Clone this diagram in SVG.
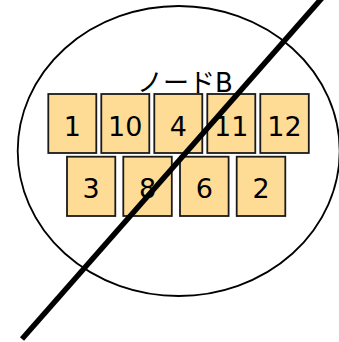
<svg xmlns="http://www.w3.org/2000/svg" width="339" height="342" viewBox="0 0 339 342">
<style>
.box rect{fill:#FFDC96;stroke:#1a1a1a;stroke-width:1.8}
.box text{font-family:"DejaVu Sans","Noto Sans CJK JP",sans-serif;font-size:27px;fill:#000;text-anchor:middle}
.lbl{font-family:"DejaVu Sans","Noto Sans CJK JP",sans-serif;font-size:26px;fill:#000;text-anchor:middle}
</style>
<rect width="339" height="342" fill="#fff"/>
<g id="nodeB">
<ellipse cx="178.7" cy="151" rx="161" ry="145" fill="none" stroke="#000" stroke-width="1.8"/>
<text class="lbl" x="185" y="92">ノードB</text>
</g>
<g id="n1" class="box"><rect x="48.3" y="94" width="48" height="59"/><text x="72.3" y="135.5">1</text></g>
<g id="n10" class="box"><rect x="101.3" y="94" width="48" height="59"/><text x="125.3" y="135.5">10</text></g>
<g id="n4" class="box"><rect x="154.3" y="94" width="48" height="59"/><text x="178.3" y="135.5">4</text></g>
<g id="n11" class="box"><rect x="207.3" y="94" width="48" height="59"/><text x="231.3" y="135.5">11</text></g>
<g id="n12" class="box"><rect x="260.3" y="94" width="48.5" height="59"/><text x="284.5" y="135.5">12</text></g>
<g id="n3" class="box"><rect x="67" y="156.7" width="48.3" height="59.3"/><text x="91.2" y="197.5">3</text></g>
<g id="n8" class="box"><rect x="123.3" y="156.7" width="48.5" height="59.3"/><text x="147.5" y="197.5">8</text></g>
<g id="n6" class="box"><rect x="180" y="156.7" width="48.6" height="59.3"/><text x="204.3" y="197.5">6</text></g>
<g id="n2" class="box"><rect x="236.7" y="156.7" width="48.6" height="59.3"/><text x="261" y="197.5">2</text></g>
<g id="connectors">
<line x1="22" y1="339" x2="322" y2="-2" stroke="#000" stroke-width="5.5"/>
</g>
</svg>
